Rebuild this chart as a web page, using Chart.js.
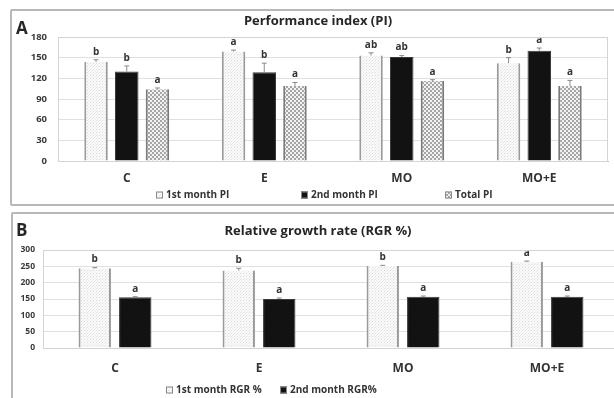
<!DOCTYPE html>
<html><head><meta charset="utf-8">
<script src="https://cdn.jsdelivr.net/npm/chart.js@4.4.0/dist/chart.umd.min.js"></script>
<style>
html,body{margin:0;padding:0;background:#fff;overflow:hidden;width:614px;height:398px;}
#wrap{position:relative;width:614px;height:398px;overflow:hidden;font-family:"Open Sans",sans-serif;}
.panel{position:absolute;border:2px solid #b8b8b8;border-radius:2px;box-sizing:border-box;}
#pA{left:10px;top:9px;width:640px;height:197px;}
#pB{left:11px;top:212px;width:640px;height:200px;}
canvas{position:absolute;left:0;}
#cA{top:0;}
#cB{top:210px;}
.lbl{position:absolute;font-weight:700;color:#262626;white-space:nowrap;}
</style></head>
<body><div id="wrap">
<div class="panel" id="pA"></div>
<div class="panel" id="pB"></div>
<canvas id="cA" width="614" height="208"></canvas>
<canvas id="cB" width="624" height="188"></canvas>
<div class="lbl" style="left:16px;top:16px;font-size:17px;">A</div>
<div class="lbl" style="left:16px;top:218px;font-size:17px;">B</div>
<div class="lbl" style="left:0;width:636px;text-align:center;top:11px;font-size:13px;">Performance index (PI)</div>
<div class="lbl" style="left:0;width:636px;text-align:center;top:221px;font-size:13px;">Relative growth rate (RGR %)</div>
</div>
<script>
// ---- data ----
const categories = ['C', 'E', 'MO', 'MO+E'];
const piTicks = [0, 30, 60, 90, 120, 150, 180];
const pi1st = [144, 159, 153, 142];
const pi2nd = [130, 129, 151, 160];
const piTotal = [104, 109, 116, 109];
const pi1stErr = [3, 2, 4, 8];
const pi2ndErr = [8, 13, 2, 4];
const piTotalErr = [2, 5, 2, 8];
const pi1stLetters = ['b', 'a', 'ab', 'b'];
const pi2ndLetters = ['b', 'b', 'ab', 'a'];
const piTotalLetters = ['a', 'a', 'a', 'a'];

const rgrTicks = [0, 50, 100, 150, 200, 250, 300];
const rgr1st = [244, 237, 251, 264];
const rgr2nd = [155, 150, 157, 157];
const rgr1stErr = [2, 7, 2, 2];
const rgr2ndErr = [2, 3, 2, 2];
const rgr1stLetters = ['b', 'b', 'b', 'a'];
const rgr2ndLetters = ['a', 'a', 'a', 'a'];

// ---- patterns ----
function pat(w, h, draw) {
  const c = document.createElement('canvas'); c.width = w; c.height = h;
  const x = c.getContext('2d'); draw(x); return x.createPattern(c, 'repeat');
}
const pLight = pat(3, 3, x => { x.fillStyle = '#fafafa'; x.fillRect(0,0,3,3); x.fillStyle = '#dadada'; x.fillRect(0,0,1,1); x.fillStyle = '#ececec'; x.fillRect(1,2,1,1); x.fillRect(2,1,1,1); });
const pCheck = pat(4, 4, x => { x.fillStyle = '#f2f2f2'; x.fillRect(0,0,4,4); x.fillStyle = '#a6a6a6'; x.fillRect(0,0,2,2); x.fillRect(2,2,2,2); });
const cBlack = '#121212';

const FONT = '"Open Sans", sans-serif';
const TXT = '#333333';

const annot = {
  id: 'annot',
  afterDatasetsDraw(chart) {
    const ctx = chart.ctx, ys = chart.scales.y;
    const extra = chart.options.plugins.annot;
    ctx.save();
    chart.data.datasets.forEach((ds, i) => {
      const meta = chart.getDatasetMeta(i);
      meta.data.forEach((el, j) => {
        const v = ds.data[j], e = ds.errs[j];
        const yt = ys.getPixelForValue(v + e);
        ctx.strokeStyle = '#8a8a8a'; ctx.lineWidth = 1;
        ctx.beginPath(); ctx.moveTo(el.x, el.y); ctx.lineTo(el.x, yt);
        ctx.moveTo(el.x - 2.5, yt); ctx.lineTo(el.x + 2.5, yt); ctx.stroke();
        ctx.fillStyle = TXT; ctx.font = 'bold 10px ' + FONT;
        ctx.textAlign = 'center'; ctx.textBaseline = 'middle';
        ctx.fillText(ds.letters[j], el.x, yt - 8);
      });
    });
    // plot frame
    const a = chart.chartArea;
    ctx.strokeStyle = '#d4d4d4'; ctx.lineWidth = 1;
    ctx.strokeRect(a.left + 0.5, a.top + 0.5, a.right - a.left - 1, a.bottom - a.top);
    // legend
    ctx.font = 'bold 10px ' + FONT; ctx.textAlign = 'left'; ctx.textBaseline = 'middle';
    extra.legend.forEach((it, k) => {
      const ds = chart.data.datasets[k];
      ctx.fillStyle = ds.backgroundColor; ctx.fillRect(it.x, extra.legendY - 3.5, 7, 7);
      ctx.strokeStyle = '#8a8a8a'; ctx.strokeRect(it.x + 0.5, extra.legendY - 3, 6, 6);
      ctx.fillStyle = TXT; ctx.fillText(ds.label, it.x + 10, extra.legendY);
    });
    ctx.restore();
  }
};

function makeChart(id, cfg) {
  return new Chart(document.getElementById(id), {
    type: 'bar',
    data: { labels: categories, datasets: cfg.datasets },
    options: {
      responsive: false, animation: false,
      layout: { padding: cfg.padding },
      plugins: { legend: { display: false }, tooltip: { enabled: false }, annot: cfg.annot },
      scales: {
        x: {
          grid: { display: false, drawTicks: false },
          border: { display: true, color: '#bdbdbd' },
          ticks: { padding: cfg.xPad, color: TXT, font: { family: FONT, weight: 'bold', size: 12 } },
          afterFit(s) { s.height = cfg.xHeight; }
        },
        y: {
          min: cfg.ticks[0], max: cfg.ticks[cfg.ticks.length - 1],
          afterBuildTicks(s) { s.ticks = cfg.ticks.map(v => ({ value: v })); },
          grid: { color: '#e0e0e0', drawTicks: false },
          border: { display: false },
          ticks: { padding: cfg.yPad, color: '#3a3a3a', font: { family: FONT, weight: 'bold', size: cfg.yFont } },
          afterFit(s) { s.width = cfg.yWidth; }
        }
      }
    },
    plugins: [annot]
  });
}

makeChart('cA', {
  ticks: piTicks, padding: { left: 0, right: 6, top: 37, bottom: 0 },
  xHeight: 47, xPad: 10, yPad: 11, yWidth: 58, yFont: 9.5,
  annot: { legendY: 195, legend: [{ x: 156 }, { x: 301 }, { x: 445 }] },
  datasets: [
    { label: '1st month PI', data: pi1st, errs: pi1stErr, letters: pi1stLetters, backgroundColor: pLight,
      borderColor: '#9a9a9a', borderWidth: { left: 2, right: 2, top: 0, bottom: 1 }, categoryPercentage: 0.67, barPercentage: 0.765 },
    { label: '2nd month PI', data: pi2nd, errs: pi2ndErr, letters: pi2ndLetters, backgroundColor: cBlack,
      borderColor: '#3a3a3a', borderWidth: 1, categoryPercentage: 0.67, barPercentage: 0.765 },
    { label: 'Total PI', data: piTotal, errs: piTotalErr, letters: piTotalLetters, backgroundColor: pCheck,
      borderColor: '#7a7a7a', borderWidth: { left: 2, right: 2, top: 0, bottom: 1 }, categoryPercentage: 0.67, barPercentage: 0.765 }
  ]
});

makeChart('cB', {
  ticks: rgrTicks, padding: { left: 0, right: 5, top: 40, bottom: 0 },
  xHeight: 50, xPad: 13, yPad: 8, yWidth: 43, yFont: 8.5,
  annot: { legendY: 180, legend: [{ x: 166 }, { x: 280 }] },
  datasets: [
    { label: '1st month RGR %', data: rgr1st, errs: rgr1stErr, letters: rgr1stLetters, backgroundColor: pLight,
      borderColor: '#9a9a9a', borderWidth: { left: 2, right: 2, top: 0, bottom: 1 }, categoryPercentage: 0.5625, barPercentage: 0.8 },
    { label: '2nd month RGR%', data: rgr2nd, errs: rgr2ndErr, letters: rgr2ndLetters, backgroundColor: cBlack,
      borderColor: '#3a3a3a', borderWidth: 1, categoryPercentage: 0.5625, barPercentage: 0.8 }
  ]
});
</script>
</body></html>
